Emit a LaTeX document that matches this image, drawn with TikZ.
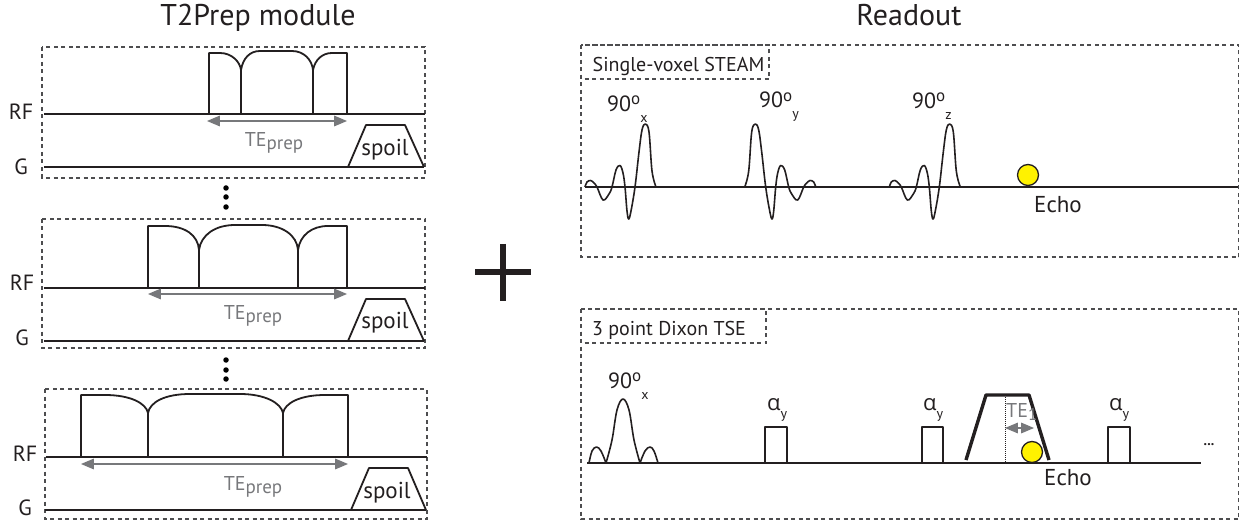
\documentclass[tikz,border=0pt]{standalone}
\usepackage{fontspec}
\setmainfont{PT Sans}
\newfontfamily\greekfont{Open Sans}
\usetikzlibrary{arrows,calc,positioning}
\definecolor{ink}{HTML}{231F20}
\definecolor{tegray}{HTML}{77787B}
\definecolor{boxgray}{HTML}{4D4D4F}
\definecolor{echoyellow}{HTML}{FFF200}
\newcommand{\sz}[1]{\fontsize{#1}{#1}\selectfont}
\newcommand{\flip}[1]{90\raisebox{.62ex}{\sz{17}o}\raisebox{-1ex}{\sz{14}#1}}
\newcommand{\teprep}{TE\raisebox{-.3ex}{\sz{19}prep}}
\newcommand{\alphay}{{\greekfont α}\raisebox{-.75ex}{\sz{14}y}}
\tikzstyle{title}=[inner sep=0, text=ink, font=\sz{30}, anchor=base]
\tikzstyle{lab}=[inner sep=0, text=ink, font=\sz{22}]
\tikzstyle{echotxt}=[inner sep=0, text=ink, font=\sz{23}]
\tikzstyle{spoiltxt}=[inner sep=0, text=ink, font=\sz{23}]
\tikzstyle{tetxt}=[inner sep=0, text=tegray, font=\sz{20}]
\tikzstyle{head}=[inner sep=0, text=ink, font=\sz{20}, anchor=base]
\tikzstyle{panel}=[draw=boxgray, line width=1.2pt, dash pattern=on 4pt off 3.5pt]
\tikzstyle{base}=[draw=ink, line width=1.7pt]
\tikzstyle{pulse}=[draw=ink, line width=1.8pt, line join=round]
\tikzstyle{tearrow}=[draw=tegray, line width=2pt, triangle 45-triangle 45]
\tikzstyle{echo}=[draw=ink, fill=echoyellow, line width=1.3pt, circle, inner sep=0, minimum size=21pt]
\tikzstyle{dot}=[fill=black, circle, inner sep=0, minimum size=5.5pt]
\tikzset{
    sinc/.pic={
        \draw[pulse, line width=1.6pt] plot[smooth, tension=.6] coordinates {(0,0) (2,-5) (5.7,-6.5) (9,-4) (12,0) (18,13) (24,7) (27,0)
            (31,-17) (35,-21.5) (38,-14) (40,0) (42,24) (43.7,32) (46,24) (50,0) (54,-35) (57,-57) (60.3,-63) (64,-55)
            (67,-16) (71,0)};
    }
}
\begin{document}
\begin{tikzpicture}[x=1pt, y=-1pt]
    \useasboundingbox (0,0) rectangle (1239,521);
    \node[title] (titleprep) at (258,26) {T2Prep module};
    \node[title] (titleread) at (909,26) {Readout};
    % short prep
    \draw[panel] (42,47) rectangle (425,178);
    \node[lab] (rfa) at (21,112) {RF};
    \node[lab] (ga) at (21,167) {G};
    \draw[base] (44,114) -- (425,114);
    \draw[base] (44,167) -- (424,167);
    \draw[pulse] (209,114) -- (209,53) -- (220,53) .. controls (232,53) and (240,62) .. (241,70)
        -- (241,114) (241,70) .. controls (243,58) and (250,51) .. (260,51) -- (292,51)
        .. controls (304,51) and (312,60) .. (313,70) -- (313,114)
        (313,70) .. controls (315,60) and (322,53) .. (332,53) -- (347,53) -- (347,114);
    \coordinate (ta) at (207,121);
    \coordinate (tb) at (347,121);
    \draw[tearrow] (ta) -- (tb);
    \node[tetxt] (tea) at (274,143) {\teprep};
    \draw[pulse] (348,167) -- (366,125) -- (405,125) -- (424,167);
    \node[spoiltxt] (spa) at (385,150) {spoil};
    \node[dot] (da) at (226,188) {};
    \node[dot] (db) at (226,197) {};
    \node[dot] (dc) at (226,207) {};
    % middle prep
    \draw[panel] (42,219) rectangle (425,348);
    \node[lab] (rfb) at (22,283) {RF};
    \node[lab] (gb) at (22,338) {G};
    \draw[base] (44,288) -- (425,288);
    \draw[base] (44,341) -- (424,341);
    \draw[pulse] (148,288) -- (148,226) -- (165,226) .. controls (185,226) and (198,235) .. (199,250)
        -- (199,288) (199,250) .. controls (201,235) and (215,225) .. (235,225) -- (262,225)
        .. controls (282,225) and (297,235) .. (298,250) -- (298,288)
        (298,250) .. controls (300,235) and (312,226) .. (328,226) -- (347,226) -- (347,288);
    \coordinate (tc) at (148,294);
    \coordinate (td) at (347,294);
    \draw[tearrow] (tc) -- (td);
    \node[tetxt] (teb) at (253,316) {\teprep};
    \draw[pulse] (348,341) -- (366,299) -- (405,299) -- (424,341);
    \node[spoiltxt] (spb) at (385,323) {spoil};
    \node[dot] (dd) at (226,360) {};
    \node[dot] (de) at (226,370) {};
    \node[dot] (df) at (226,379) {};
    % long prep
    \draw[panel] (45,389) rectangle (427,519);
    \node[lab] (rfc) at (25,454) {RF};
    \node[lab] (gc) at (25,508) {G};
    \draw[base] (46,457) -- (427,457);
    \draw[base] (45,510) -- (426,510);
    \draw[pulse] (81,457) -- (81,395) -- (105,395) .. controls (130,395) and (146,403) .. (148,413)
        -- (148,457) (148,413) .. controls (150,402) and (165,394) .. (190,394) -- (240,394)
        .. controls (265,394) and (281,403) .. (283,413) -- (283,457)
        (283,413) .. controls (285,403) and (300,395) .. (325,395) -- (348,395) -- (348,457);
    \coordinate (te) at (81,464);
    \coordinate (tf) at (348,464);
    \draw[tearrow] (te) -- (tf);
    \node[tetxt] (tec) at (253,487) {\teprep};
    \draw[pulse] (351,510) -- (369,468) -- (408,468) -- (426,510);
    \node[spoiltxt] (spc) at (387,493) {spoil};
    % plus
    \draw[ink, line width=5.5pt] (475,272) -- (531,272) (503,244) -- (503,301);
    % STEAM
    \draw[panel] (581,45) rectangle (1239,257);
    \draw[panel] (581,45) rectangle (769,79);
    \node[head] (steam) at (678.5,72) {Single-voxel STEAM};
    \draw[base] (585,187) -- (1238,187);
    \pic at (585,187) {sinc};
    \pic[xscale=-1] at (815.7,187) {sinc};
    \pic at (889.3,187) {sinc};
    \node[lab, anchor=west] (fa) at (607,109) {\flip{x}};
    \node[lab, anchor=west] (fb) at (759,107) {\flip{y}};
    \node[lab, anchor=west] (fc) at (912,106) {\flip{z}};
    \node[echo] (echoa) at (1028,175) {};
    \node[echotxt] (echotxta) at (1058,205) {Echo};
    % Dixon
    \draw[panel] (581,309) rectangle (1239,519);
    \draw[panel] (581,309) rectangle (766,343);
    \node[head] (dixon) at (669,335) {3 point Dixon TSE};
    \draw[base] (587,463) -- (1201,463);
    \draw[pulse, line width=1.6pt] plot[smooth, tension=.6] coordinates {(589,463) (592,451) (596.5,447) (601,451) (606,463)};
    \draw[pulse, line width=1.6pt] plot[smooth, tension=.6] coordinates {(606,463) (612,440) (617,410) (623,399) (629,410) (634,440) (640,463)};
    \draw[pulse, line width=1.6pt] plot[smooth, tension=.6] coordinates {(640,463) (645,451) (650,447) (654,451) (658,463)};
    \node[lab, anchor=west] (fd) at (608,386) {\flip{x}};
    \draw[pulse] (765,463) -- (765,427) -- (787,427) -- (787,463);
    \draw[pulse] (922,463) -- (922,427) -- (943,427) -- (943,463);
    \draw[pulse] (1108,463) -- (1108,427) -- (1130,427) -- (1130,463);
    \node[lab, anchor=west] (aa) at (767,410) {\alphay};
    \node[lab, anchor=west] (ab) at (923,410) {\alphay};
    \node[lab, anchor=west] (ac) at (1109,410) {\alphay};
    \draw[ink, line width=3.4pt, line join=round] (966,460) -- (986,395) -- (1029,395) -- (1049,460);
    \draw[ink, line width=1pt, densely dotted] (1005,395) -- (1005,463);
    \coordinate (tg) at (1005,428);
    \coordinate (th) at (1034,428);
    \draw[tearrow] (tg) -- (th);
    \node[tetxt, anchor=west] (tee) at (1006,412) {TE\raisebox{-.3ex}{\sz{17}1}};
    \node[echo] (echob) at (1032,452) {};
    \node[echotxt] (echotxtb) at (1068,478) {Echo};
    \node[lab, font=\sz{14}\bfseries] (more) at (1209,445) {...};
\end{tikzpicture}
\end{document}
